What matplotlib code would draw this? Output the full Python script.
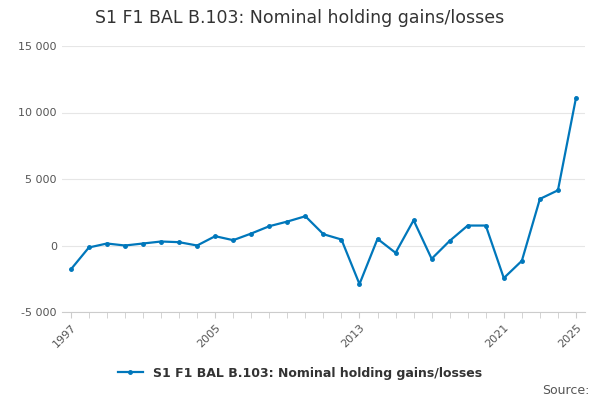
import matplotlib
matplotlib.use("Agg")
import matplotlib.pyplot as plt
from matplotlib.ticker import FuncFormatter

years = list(range(1997, 2026))
values = [-1800, -150, 150, 0, 150, 300, 250, 0, 700, 400, 900, 1450, 1800, 2200,
          850, 450, -2900, 500, -550, 1900, -1000, 350, 1500, 1500, -2450, -1150,
          3500, 4150, 11100]
series_name = "S1 F1 BAL B.103: Nominal holding gains/losses"

fig = plt.figure(figsize=(6, 4), dpi=100)
ax = fig.add_axes([0.103, 0.22, 0.872, 0.665])
ax.plot(years, values, color="#0077bb", lw=1.6, marker="o", ms=2.5, label=series_name)
ax.set_ylim(-5000, 15000)
ax.set_yticks([-5000, 0, 5000, 10000, 15000])
ax.yaxis.set_major_formatter(FuncFormatter(lambda v, p: f"{int(v):,}".replace(",", " ")))
ax.set_xlim(1996.5, 2025.5)
ax.set_xticks(years, minor=True)
ax.set_xticks([1997, 2005, 2013, 2021, 2025])
ax.tick_params(axis="x", which="both", length=4, color="#cccccc", labelsize=8, labelcolor="#555555")
plt.setp(ax.get_xticklabels(), rotation=45, ha="right", rotation_mode="anchor")
ax.tick_params(axis="y", length=0, labelsize=8, labelcolor="#555555")
ax.grid(axis="y", color="#e6e6e6", lw=0.8)
for s in ["top", "right", "left"]:
    ax.spines[s].set_visible(False)
ax.spines["bottom"].set_color("#cccccc")
fig.text(0.5, 0.955, "S1 F1 BAL B.103: Nominal holding gains/losses", ha="center", va="center",
         fontsize=12.5, color="#333333")
fig.legend(loc="center", bbox_to_anchor=(0.5, 0.067), frameon=False,
           prop={"size": 9, "weight": "bold"}, labelcolor="#333333", handlelength=2)
fig.text(0.982, 0.025, "Source:", ha="right", va="center", fontsize=9, color="#555555")
fig.savefig("out.png")
